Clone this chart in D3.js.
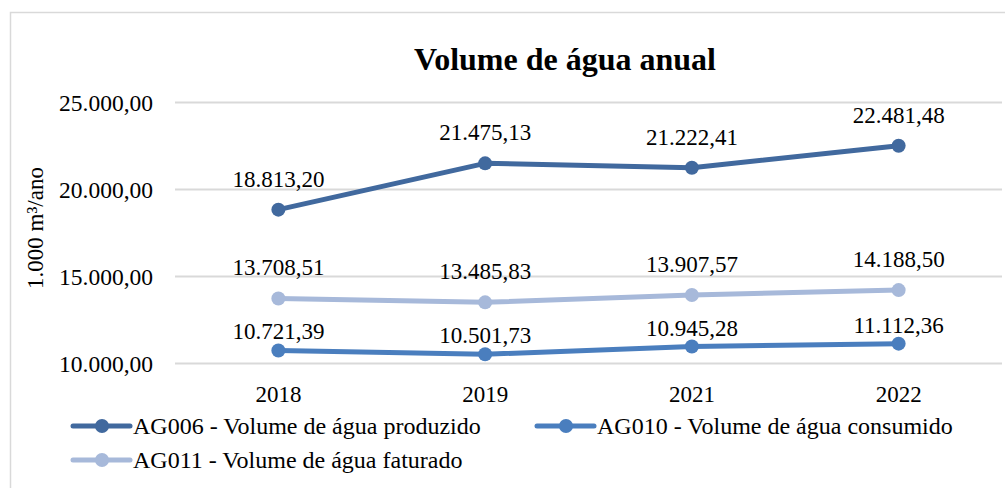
<!DOCTYPE html>
<html><head><meta charset="utf-8">
<script src="https://cdn.jsdelivr.net/npm/d3@7"></script>
<style>body{margin:0;background:#fff}svg{display:block}</style>
</head><body>
<svg id="c" width="1005" height="488"></svg>
<script>
const years = ["2018","2019","2021","2022"];
const ag006 = [18813.20, 21475.13, 21222.41, 22481.48];
const ag010 = [10721.39, 10501.73, 10945.28, 11112.36];
const ag011 = [13708.51, 13485.83, 13907.57, 14188.50];
const yTicks = [10000, 15000, 20000, 25000];
const seriesNames = ["AG006 - Volume de água produzido","AG010 - Volume de água consumido","AG011 - Volume de água faturado"];
const seriesColors = ["#41699e","#4a7ebe","#a7b9da"];
const labelGap = [23, 11, 23];

const series = [ag006, ag010, ag011].map((v,i)=>({name:seriesNames[i], color:seriesColors[i], values:v, gap:labelGap[i]}));
const svg = d3.select("#c");
const F = "'Liberation Serif','Times New Roman',serif";

svg.append("rect").attr("x",10.5).attr("y",12.5).attr("width",1005).attr("height",500)
  .attr("fill","#fff").attr("stroke","#d9d9d9").attr("stroke-width",1.5);

const x = d3.scaleBand().domain(years).range([175,1002]);
const y = d3.scaleLinear().domain([10000,25000]).range([363,102]);

const fmt = v => {
  const s = d3.format(",.2f")(v);
  return s.replace(/,/g,"#").replace(/\./g,",").replace(/#/g,".");
};

svg.append("text").attr("x",565).attr("y",70).attr("text-anchor","middle")
  .attr("font-family",F).attr("font-weight","bold").attr("font-size",32).text("Volume de água anual");

// grid
const gy = svg.append("g").attr("transform","translate(175,0)")
  .call(d3.axisLeft(y).tickValues(yTicks).tickSize(-827).tickFormat(fmt).tickPadding(22));
gy.select(".domain").remove();
gy.selectAll(".tick line").attr("stroke","#d9d9d9").attr("stroke-width",2);
gy.selectAll(".tick text").attr("font-family",F).attr("font-size",23.5).attr("fill","#000").attr("dy","0.35em");

const gx = svg.append("g").attr("transform","translate(0,363)")
  .call(d3.axisBottom(x).tickSize(0).tickPadding(23));
gx.select(".domain").remove();
gx.selectAll(".tick text").attr("font-family",F).attr("font-size",23).attr("fill","#000");

svg.append("text").attr("transform","translate(43,228) rotate(-90)").attr("text-anchor","middle")
  .attr("font-family",F).attr("font-size",23).text("1.000 m³/ano");

const line = d3.line().x((d,i)=>x(years[i])+x.bandwidth()/2).y(d=>y(d));
series.forEach(s=>{
  svg.append("path").attr("d",line(s.values)).attr("fill","none").attr("stroke",s.color)
    .attr("stroke-width",5).attr("stroke-linejoin","round").attr("stroke-linecap","round");
  svg.selectAll(null).data(s.values).join("circle")
    .attr("cx",(d,i)=>x(years[i])+x.bandwidth()/2).attr("cy",d=>y(d)).attr("r",7).attr("fill",s.color);
  svg.selectAll(null).data(s.values).join("text")
    .attr("x",(d,i)=>x(years[i])+x.bandwidth()/2).attr("y",d=>y(d)-s.gap)
    .attr("text-anchor","middle").attr("font-family",F).attr("font-size",23).text(d=>fmt(d));
});

// legend
const legPos = [[73,426],[537,426],[73,460]];
series.forEach((s,i)=>{
  const [lx,ly] = legPos[i];
  const g = svg.append("g").attr("transform",`translate(${lx},${ly})`);
  g.append("line").attr("x1",0).attr("x2",57).attr("y1",0).attr("y2",0).attr("stroke",s.color).attr("stroke-width",5).attr("stroke-linecap","round");
  g.append("circle").attr("cx",29).attr("cy",0).attr("r",7).attr("fill",s.color);
  g.append("text").attr("x",60).attr("y",0).attr("dy","0.35em").attr("font-family",F).attr("font-size",24).text(s.name);
});
</script>
</body></html>
